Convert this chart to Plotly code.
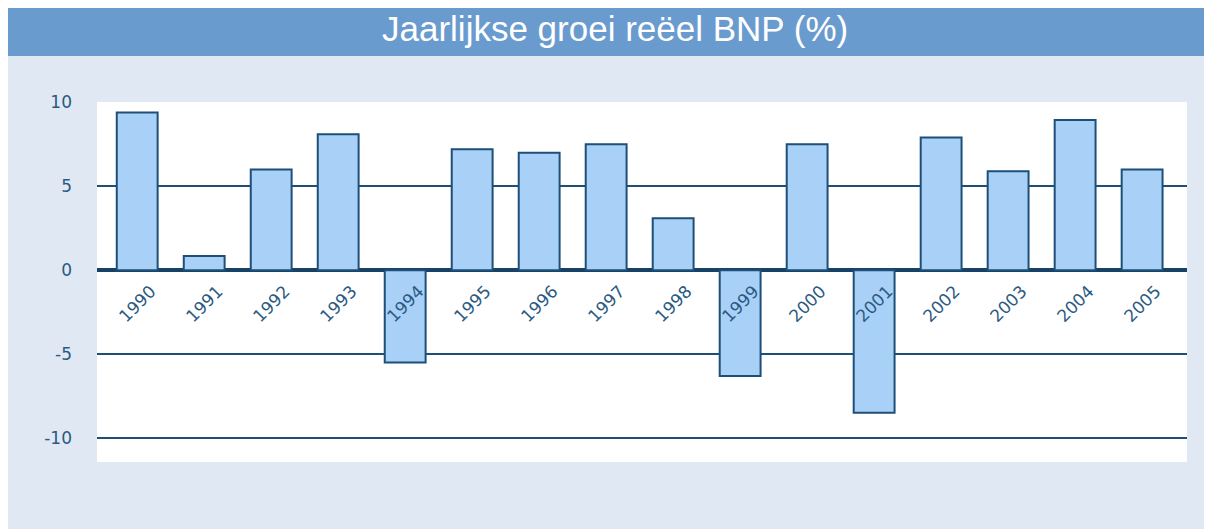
import plotly.graph_objects as go

years = ["1990", "1991", "1992", "1993", "1994", "1995", "1996", "1997",
         "1998", "1999", "2000", "2001", "2002", "2003", "2004", "2005"]
growth = [9.4, 0.85, 6.0, 8.1, -5.5, 7.2, 7.0, 7.5,
          3.1, -6.3, 7.5, -8.5, 7.9, 5.9, 8.95, 6.0]
y_ticks = [-10, -5, 0, 5, 10]
y_ticktext = ["-10", "-5", "0", "5", "10"]
title_text = "Jaarlijkse groei reëel BNP (%)"

# page has an 8px body margin; figure fills the rest of the window
W, H = 1204, 521
L, R, T, B = 89, 25, 94, 67
pw, ph = W - L - R, H - T - B


def px_x(p):
    return (p - L) / pw


def px_y(p):
    return (H - B - p) / ph


dark = "#1d4f78"
label_col = "#2b5a82"

fig = go.Figure()
fig.add_trace(go.Bar(
    x=years, y=growth,
    marker=dict(color="#a9d1f7", line=dict(color=dark, width=2)),
    hoverinfo="x+y",
))

shapes = [
    dict(type="rect", xref="paper", yref="paper", x0=px_x(0), x1=px_x(W + 5),
         y0=px_y(H + 5), y1=px_y(48), fillcolor="#e0e9f3", line=dict(width=0), layer="below"),
    dict(type="rect", xref="paper", yref="paper", x0=px_x(0), x1=px_x(W + 5),
         y0=px_y(48), y1=px_y(-2), fillcolor="#6a9bcf", line=dict(width=0), layer="below"),
    dict(type="rect", xref="paper", yref="paper", x0=0, x1=1, y0=0, y1=1,
         fillcolor="white", line=dict(width=0), layer="below"),
]

annotations = [
    dict(text=title_text, xref="paper", yref="paper", x=px_x(607), y=px_y(20),
         xanchor="center", yanchor="middle", showarrow=False,
         font=dict(family="Liberation Sans, Arial, sans-serif", size=35, color="white")),
]
for i, yr in enumerate(years):
    annotations.append(dict(
        text=yr, x=i, y=0, xref="x", yref="y", textangle=-45,
        xanchor="center", yanchor="top", yshift=-9, showarrow=False,
        font=dict(family="DejaVu Sans, Verdana, sans-serif", size=17, color=label_col),
    ))

fig.update_layout(
    width=W, height=H,
    margin=dict(l=L, r=R, t=T, b=B, pad=0),
    paper_bgcolor="white",
    plot_bgcolor="rgba(0,0,0,0)",
    showlegend=False,
    bargap=0.39,
    shapes=shapes,
    annotations=annotations,
    xaxis=dict(type="category", range=[-0.6, 15.67], showticklabels=False,
               showgrid=False, zeroline=False, showline=False, ticks=""),
    yaxis=dict(range=[-11.43, 10.02], tickvals=y_ticks, ticktext=y_ticktext, showgrid=True,
               gridcolor=dark, gridwidth=2, zeroline=True, zerolinecolor="#174266",
               zerolinewidth=4, showline=False, ticks="", ticklabelstandoff=24,
               tickfont=dict(family="DejaVu Sans, Verdana, sans-serif", size=17, color=label_col)),
)

fig.write_html("out.html")
